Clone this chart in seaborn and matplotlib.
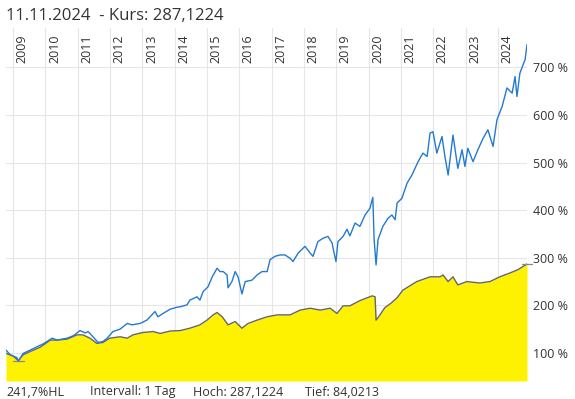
import numpy as np
import pandas as pd
import matplotlib
matplotlib.use("Agg")
import matplotlib.pyplot as plt
import matplotlib.transforms as mtransforms
import seaborn as sns

# === Daten (Zeit in Dezimaljahren, Werte in %) ===
bench_t = [2008.78, 2008.91, 2009.12, 2009.16, 2009.31, 2009.53, 2009.74, 2009.93,
           2010.21, 2010.36, 2010.67, 2010.86, 2011.07, 2011.23, 2011.32, 2011.47,
           2011.63, 2011.78, 2011.91, 2012.09, 2012.31, 2012.53, 2012.68, 2012.93,
           2013.14, 2013.39, 2013.48, 2013.64, 2013.86, 2014.07, 2014.17, 2014.38,
           2014.47, 2014.69, 2014.78, 2014.88, 2015.03, 2015.16, 2015.31, 2015.40,
           2015.50, 2015.62, 2015.65, 2015.77, 2015.87, 2015.96, 2016.08, 2016.18,
           2016.39, 2016.55, 2016.70, 2016.86, 2016.95, 2017.10, 2017.26, 2017.41,
           2017.57, 2017.66, 2017.82, 2018.03, 2018.19, 2018.28, 2018.43, 2018.59,
           2018.74, 2018.87, 2018.90, 2018.99, 2019.05, 2019.21, 2019.33, 2019.42,
           2019.58, 2019.73, 2019.89, 2020.04, 2020.13, 2020.17, 2020.23, 2020.29,
           2020.44, 2020.60, 2020.72, 2020.82, 2020.88, 2021.03, 2021.19, 2021.34,
           2021.53, 2021.68, 2021.81, 2021.90, 2021.99, 2022.11, 2022.27, 2022.36,
           2022.46, 2022.61, 2022.76, 2022.89, 2022.98, 2023.07, 2023.23, 2023.38,
           2023.54, 2023.69, 2023.85, 2023.97, 2024.13, 2024.28, 2024.44, 2024.53,
           2024.59, 2024.68, 2024.78, 2024.84, 2024.90]
bench_v = [106, 96, 90, 82, 99, 106, 113, 119,
           131, 127, 131, 136, 147, 142, 145, 134,
           122, 124, 131, 145, 150, 162, 159, 162,
           169, 187, 176, 183, 192, 196, 197, 201,
           211, 218, 211, 229, 239, 260, 278, 271,
           271, 264, 237, 250, 271, 260, 224, 250,
           253, 264, 271, 271, 296, 303, 306, 306,
           299, 292, 310, 324, 310, 303, 334, 341,
           345, 331, 320, 292, 334, 345, 360, 346,
           373, 366, 390, 404, 427, 338, 285, 338,
           366, 383, 390, 380, 415, 425, 457, 474,
           502, 520, 513, 562, 565, 520, 555, 513,
           474, 558, 488, 527, 492, 530, 502, 527,
           551, 569, 534, 590, 618, 657, 646, 681,
           639, 688, 706, 716, 748]

fund_t = [2008.78, 2008.99, 2009.16, 2009.31, 2009.53, 2009.84, 2010.15, 2010.36,
          2010.67, 2010.98, 2011.16, 2011.38, 2011.59, 2011.78, 2011.99, 2012.31,
          2012.53, 2012.71, 2013.02, 2013.33, 2013.55, 2013.86, 2014.17, 2014.47,
          2014.78, 2015.00, 2015.19, 2015.31, 2015.47, 2015.65, 2015.87, 2016.08,
          2016.27, 2016.55, 2016.86, 2017.17, 2017.57, 2017.88, 2018.19, 2018.50,
          2018.81, 2019.02, 2019.21, 2019.42, 2019.73, 2020.11, 2020.20, 2020.23,
          2020.29, 2020.50, 2020.70, 2020.88, 2021.06, 2021.49, 2021.90, 2022.21,
          2022.30, 2022.46, 2022.61, 2022.76, 2023.04, 2023.44, 2023.75, 2024.06,
          2024.37, 2024.62, 2024.90]
fund_v = [99, 94, 84.02, 96, 103, 112, 127, 127,
          129, 138, 138, 131, 120, 122, 131, 134,
          131, 138, 143, 145, 141, 146, 147, 152,
          159, 169, 180, 185, 176, 159, 166, 152,
          162, 169, 176, 180, 180, 190, 194, 190,
          194, 183, 199, 199, 210, 220, 218, 169,
          174, 195, 205, 216, 232, 250, 260, 260,
          264, 250, 260, 243, 250, 247, 250, 260,
          268, 275, 287.12]

years = list(range(2009, 2025))
y_ticks = [100, 200, 300, 400, 500, 600, 700]

title_text = "11.11.2024  - Kurs: 287,1224"
footer = ["241,7%HL", "Intervall: 1 Tag", "Hoch: 287,1224", "Tief: 84,0213"]

bench = pd.DataFrame({"t": bench_t, "v": bench_v})
fund = pd.DataFrame({"t": fund_t, "v": fund_v})

# === Stil ===
sns.set_style("white")
plt.rcParams["font.family"] = ["Open Sans", "DejaVu Sans"]
txt_col = "#333333"
grid_col = "#e6e6e6"

fig = plt.figure(figsize=(5.75, 3.99), dpi=100)
ax = fig.add_axes([6 / 575, 18 / 399, 521 / 575, 353 / 399])

y_min, y_max = 41, 783
ax.set_xlim(bench_t[0], bench_t[-1])
ax.set_ylim(y_min, y_max)

# Gitter
ax.set_xticks(years)
ax.set_yticks(y_ticks)
ax.grid(True, color=grid_col, linewidth=0.8)
ax.set_axisbelow(True)
for s in ax.spines.values():
    s.set_visible(False)

# Fonds: gelbe Flaeche mit grauer Linie
ax.fill_between(fund["t"], fund["v"], y_min, color="#fff200", linewidth=0, zorder=2)
sns.lineplot(data=fund, x="t", y="v", ax=ax, color="#666666", linewidth=1.0, zorder=3)

# Vergleichsindex: blaue Linie
sns.lineplot(data=bench, x="t", y="v", ax=ax, color="#2379d3", linewidth=1.0, zorder=4)

# Hoch/Tief Markierungen
i_lo = int(np.argmin(fund_v))
i_hi = int(np.argmax(fund_v))
for i in (i_lo, i_hi):
    ax.plot([fund_t[i] - 0.17, fund_t[i] + 0.17], [fund_v[i], fund_v[i]],
            color="#888888", linewidth=0.9, zorder=5, clip_on=False)

# Achsenbeschriftung
ax.set_xlabel("")
ax.set_ylabel("")
ax.tick_params(axis="x", length=0, labelbottom=False)
ax.yaxis.tick_right()
ax.tick_params(axis="y", length=0, pad=4.5, labelsize=9, labelcolor=txt_col)
ax.set_yticklabels([f"{v} %" for v in y_ticks])

# Jahreszahlen oben im Chart
trans = mtransforms.blended_transform_factory(ax.transData, ax.transAxes)
for yr in years:
    ax.text(yr + 0.28, 0.90, str(yr), transform=trans, rotation=90,
            ha="center", va="bottom", fontsize=9, color=txt_col)

# Titel und Fusszeile
fig.text(6 / 575, 1 - 16 / 399, title_text, ha="left", va="center",
         fontsize=12, color=txt_col)
footer_x = [6, 90, 193, 305]
for x, s in zip(footer_x, footer):
    fig.text(x / 575, 1 - 392 / 399, s, ha="left", va="center",
             fontsize=9, color=txt_col)

plt.savefig("out.png", dpi=100)
